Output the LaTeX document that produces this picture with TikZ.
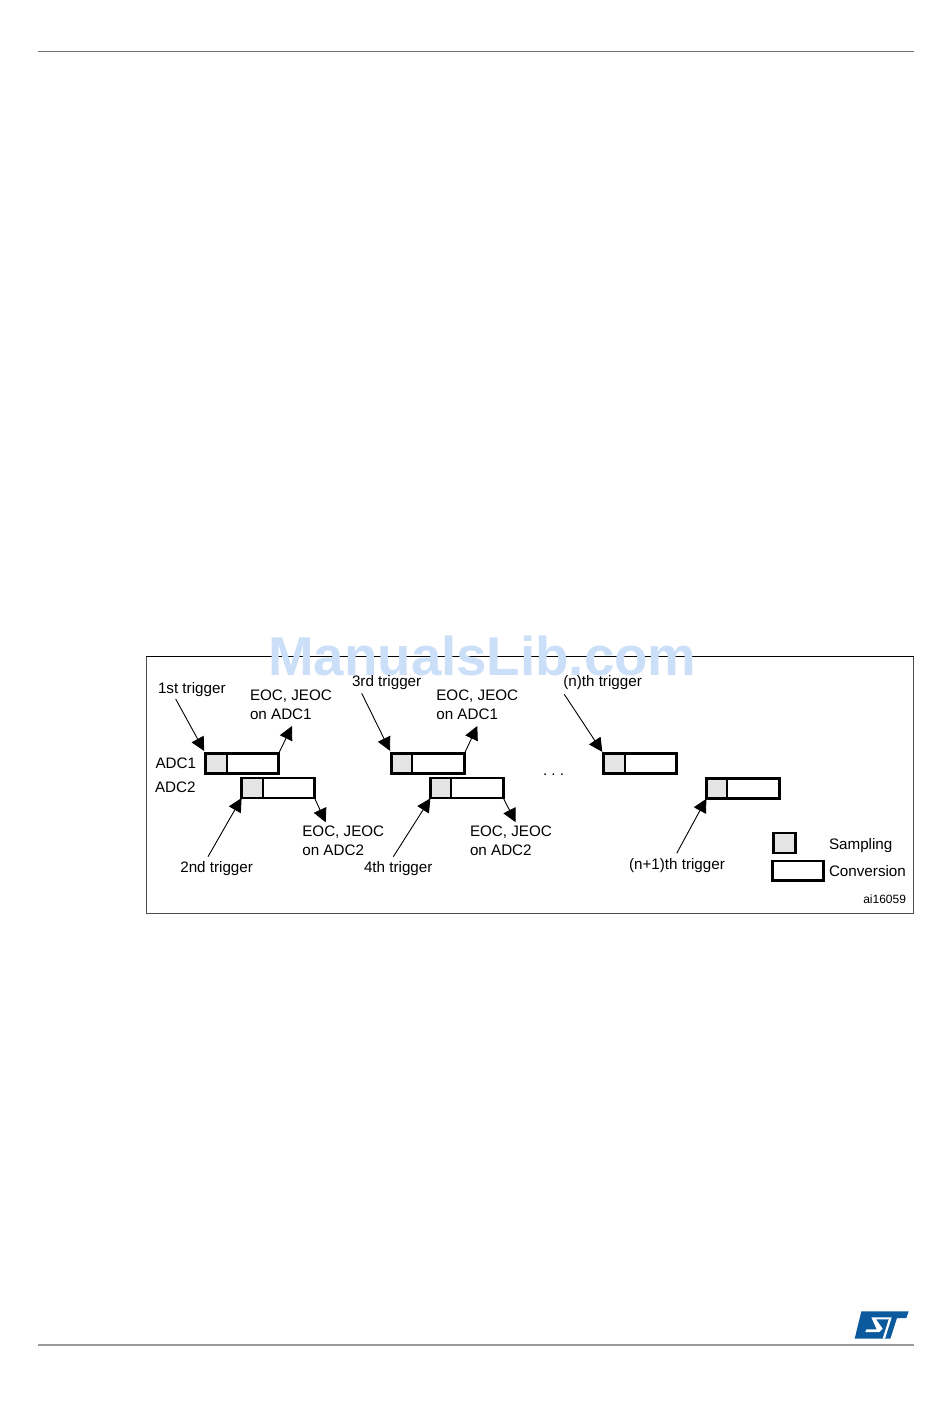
\documentclass[tikz,border=0pt]{standalone}
\usepackage{fontspec}
\setmainfont{Liberation Sans}
\usetikzlibrary{arrows.meta}
\newlength\px
\setlength\px{0.75pt}
\definecolor{sampfill}{HTML}{E4E4E4}
\definecolor{wmark}{HTML}{CBDFF9}
\definecolor{stblue}{HTML}{0B5A9E}
\tikzset{
  convbox/.style={draw=black,line width=2.3\px,fill=white,minimum width=73\px,minimum height=20\px,inner sep=0pt,outer sep=0pt,anchor=north west},
  sampbox/.style={draw=black,line width=2.3\px,fill=sampfill,minimum height=20\px,inner sep=0pt,outer sep=0pt,anchor=north west},
  legsamp/.style={draw=black,line width=2.3\px,fill=sampfill,minimum width=22\px,minimum height=20.3\px,inner sep=0pt,outer sep=0pt,anchor=north west},
  legconv/.style={draw=black,line width=2.3\px,fill=white,minimum width=51\px,minimum height=19.7\px,inner sep=0pt,outer sep=0pt,anchor=north west},
  lab/.style={font=\fontsize{11.4}{14.25}\selectfont\frenchspacing,inner sep=0pt,outer sep=0pt,anchor=base west,align=left},
  small/.style={font=\fontsize{9}{11}\selectfont,inner sep=0pt,outer sep=0pt,anchor=base west},
  arr/.style={-{Triangle[length=10.2pt,width=10.2pt]},line width=0.9\px,black},
  rule/.style={line width=1\px,color=black!55},
}
\newcommand{\adcbox}[4]{%
  \node[convbox] (#1) at (#2,#3) {};
  \node[sampbox,minimum width=#4\px] (#1s) at (#2,#3) {};
}
\begin{document}
\begin{tikzpicture}[x=0.75pt,y=-0.75pt]
\useasboundingbox (0,0) rectangle (950,1420);
\fill[white] (0,0) rectangle (950,1420);
% page rules
\coordinate (hl) at (38,51.5); \coordinate (hr) at (914,51.5);
\coordinate (fl) at (38,1345); \coordinate (fr) at (914,1345);
\draw[rule] (hl) -- (hr);
\draw[rule,color=black!40,line width=1.3\px] (fl) -- (fr);
% frame
\draw[line width=1\px,color=black!70] (146.5,656.5) rectangle (913.5,913.5);
\draw[line width=1\px,black] (146,656.5) -- (913.5,656.5);
% watermark
\node[inner sep=0pt,anchor=base west,text=wmark,font=\fontsize{41}{44}\selectfont\bfseries] (wm) at (268,675.5) {ManualsLib.com};
% boxes
\adcbox{a1}{205.6}{753.6}{21.3}
\adcbox{b1}{241.6}{778}{21.3}
\adcbox{a2}{391.4}{753.6}{20.3}
\adcbox{b2}{430.4}{778.3}{20.3}
\adcbox{a3}{603.4}{753.6}{21.3}
\adcbox{b3}{706.4}{778.6}{20.3}
\node[legsamp] (ls) at (773.4,832.8) {};
\node[legconv] (lc) at (772.4,860.8) {};
% labels
\node[lab] (t1) at (158.0,693.5) {1st trigger};
\node[lab] (e1) at (250,719) {EOC, JEOC\\on ADC1};
\node[lab] (t3) at (352,686.3) {3rd trigger};
\node[lab] (e3) at (436.3,719) {EOC, JEOC\\on ADC1};
\node[lab] (tn) at (563.3,686.3) {(n)th trigger};
\node[lab] (l1) at (155.5,768.5) {ADC1};
\node[lab] (l2) at (155,792.5) {ADC2};
\node[lab] (dots) at (543,775) {. . .};
\node[lab] (e2) at (302.3,855.7) {EOC, JEOC\\on ADC2};
\node[lab] (e4) at (470,855.7) {EOC, JEOC\\on ADC2};
\node[lab] (t2) at (180.3,872.2) {2nd trigger};
\node[lab] (t4) at (364,872.2) {4th trigger};
\node[lab] (tn1) at (629,869.8) {(n+1)th trigger};
\node[lab] (ts) at (829,849.6) {Sampling};
\node[lab] (tc) at (829,876.5) {Conversion};
\node[small] (ai) at (863.3,903) {ai16059};
% connector free ends
\coordinate (s1) at (175.7,699);
\coordinate (s3) at (361.7,693.3);
\coordinate (sn) at (564.3,694.3);
\coordinate (s2) at (208,856.7);
\coordinate (s4) at (393.3,856.7);
\coordinate (sn1) at (676.7,853.3);
\coordinate (q1) at (292,726);
\coordinate (q3) at (477.3,726);
\coordinate (q2) at (325.7,822.3);
\coordinate (q4) at (515.7,822.3);
% connectors
\draw[arr,shorten >=3\px] (s1) -- (a1.north west);
\draw[arr,shorten >=3\px] (s3) -- (a2.north west);
\draw[arr,shorten >=2\px] (sn) -- (a3.north west);
\draw[arr] (s2) -- (b1.south west);
\draw[arr] (s4) -- (b2.south west);
\draw[arr] (sn1) -- (b3.south west);
\draw[arr] (a1.north east) -- (q1);
\draw[arr] (a2.north east) -- (q3);
\draw[arr] (b1.south east) -- (q2);
\draw[arr] (b2.south east) -- (q4);
% logo
\begin{scope}[shift={(852,1308)},x=0.25pt,y=-0.25pt]
\fill[stblue] (28,10) -- (170,10) -- (163,30) -- (135,30) -- (115,92) -- (8,92) -- cycle;
\fill[white] (58,28) -- (112,28) -- (110,34) -- (72,34) -- (92,62) -- (82,72) -- (40,72) -- (43,64) -- (74,64) -- cycle;
\fill[white] (112,28) -- (119,28) -- (99,92) -- (92,92) -- cycle;
\end{scope}
\end{tikzpicture}
\end{document}
